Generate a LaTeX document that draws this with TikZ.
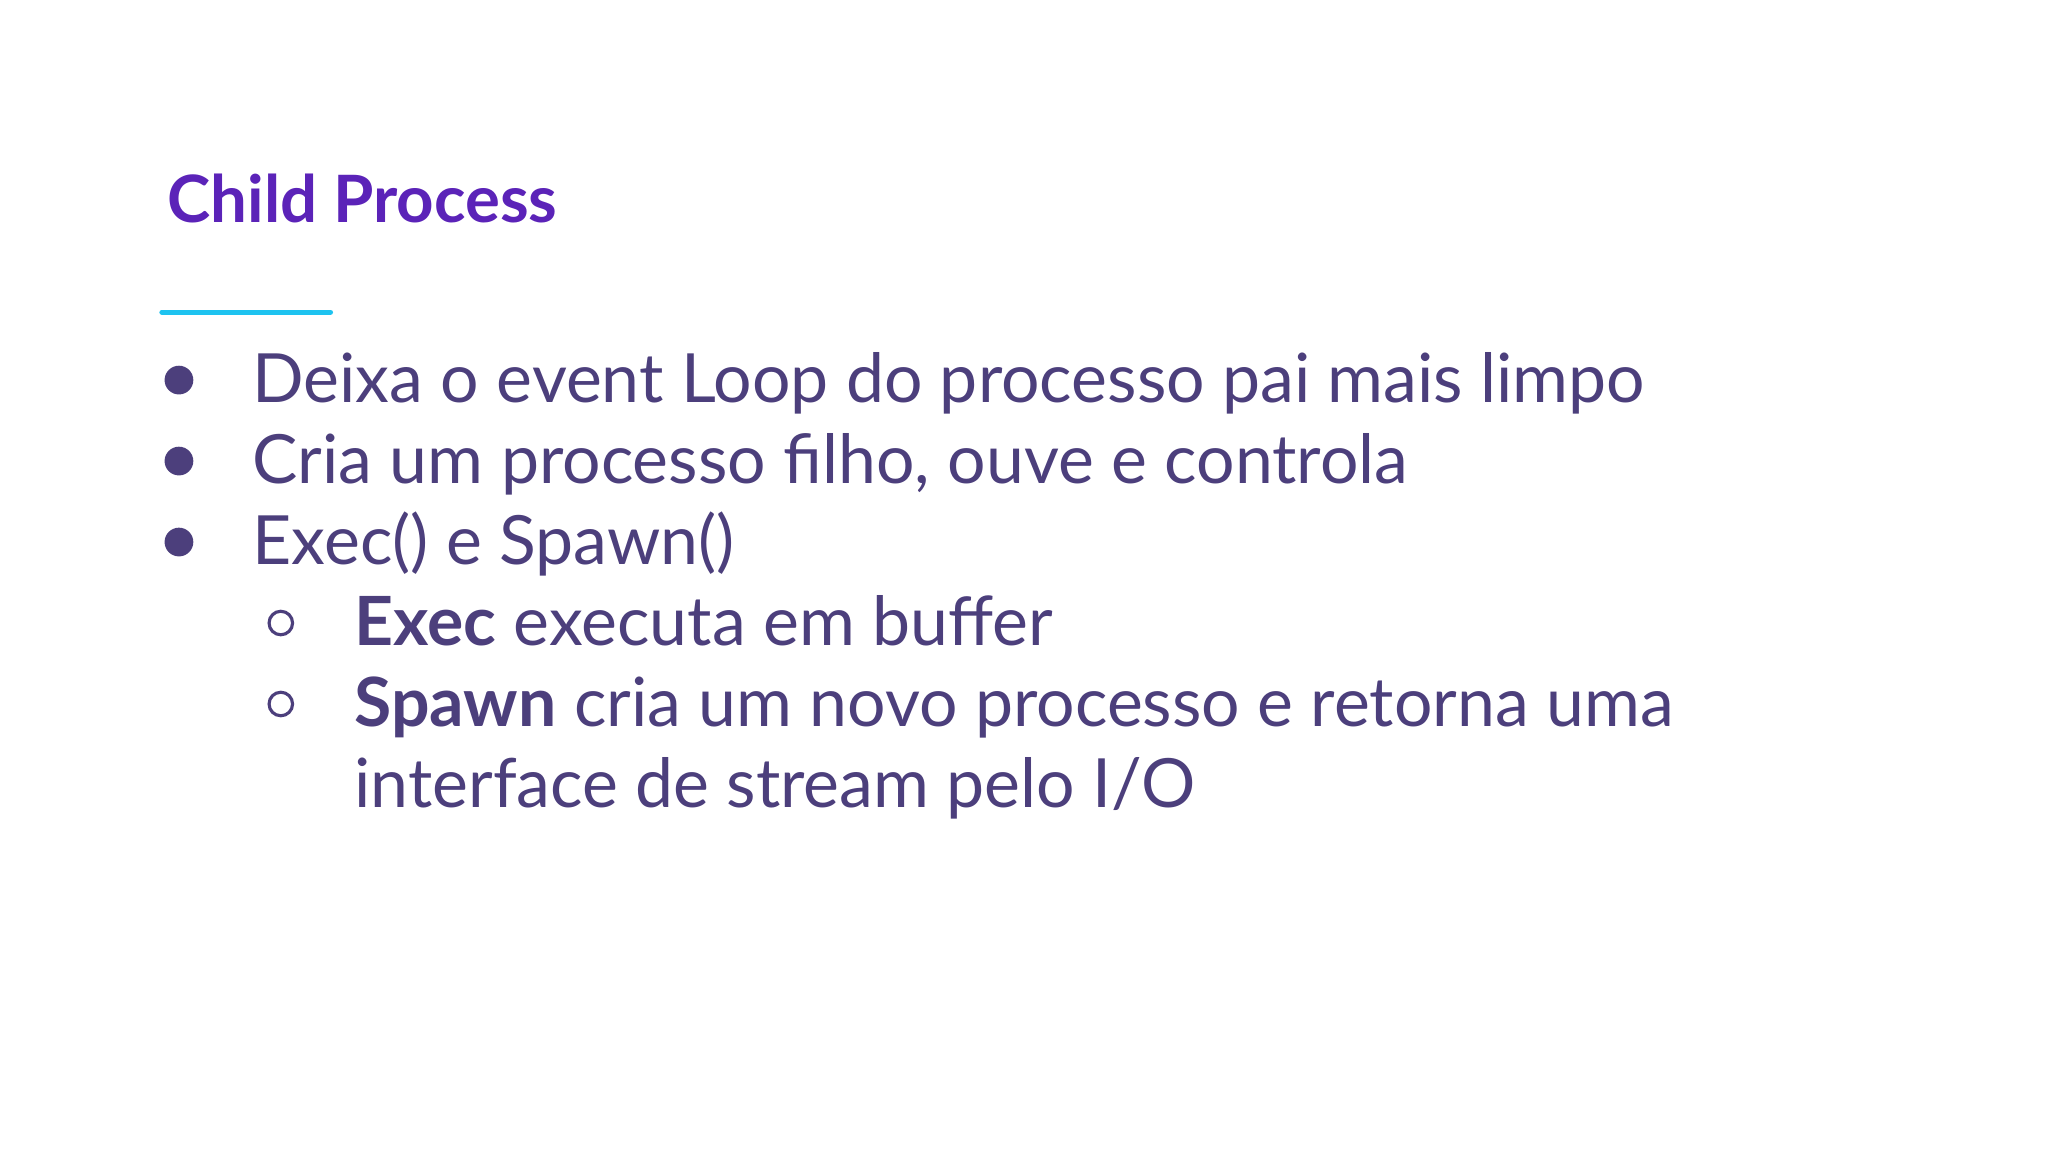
\documentclass[tikz,border=0pt]{standalone}
\usepackage{fontspec}
\setmainfont{Lato}
\definecolor{titlec}{HTML}{5B23B8}
\definecolor{bodyc}{HTML}{4C3F7C}
\definecolor{linec}{HTML}{1EC3F0}
\begin{document}
\begin{tikzpicture}[x=0.5pt,y=-0.5pt,
  txt/.style={anchor=base west,inner sep=0,text=bodyc,font=\fontsize{26}{30}\selectfont},
  dot/.style={circle,fill=bodyc,inner sep=0,minimum size=11pt},
  ring/.style={circle,draw=bodyc,line width=1.2pt,inner sep=0,minimum size=9pt}]
\useasboundingbox (0,0) rectangle (1568,882);
\node[anchor=base west,inner sep=0,text=titlec,font=\fontsize{25}{30}\selectfont\bfseries] (title) at (128,170) {Child Process};
\coordinate (la) at (124,239); \coordinate (lb) at (253,239);
\draw[linec,line width=2pt,line cap=round] (la) -- (lb);
\node[dot] (d1) at (137,291) {};
\node[dot] (d2) at (137,353) {};
\node[dot] (d3) at (137,415) {};
\node[ring] (r1) at (215,477) {};
\node[ring] (r2) at (215,539) {};
\node[txt] (t1) at (193,308) {Deixa o event Loop do processo pai mais limpo};
\node[txt] (t2) at (193,370) {Cria um processo filho, ouve e controla};
\node[txt] (t3) at (193,432) {Exec() e Spawn()};
\node[txt] (t4) at (271,494) {\textbf{Exec} executa em buffer};
\node[txt] (t5) at (271,556) {\textbf{Spawn} cria um novo processo e retorna uma};
\node[txt] (t6) at (271,618) {interface de stream pelo I/O};
\end{tikzpicture}
\end{document}
